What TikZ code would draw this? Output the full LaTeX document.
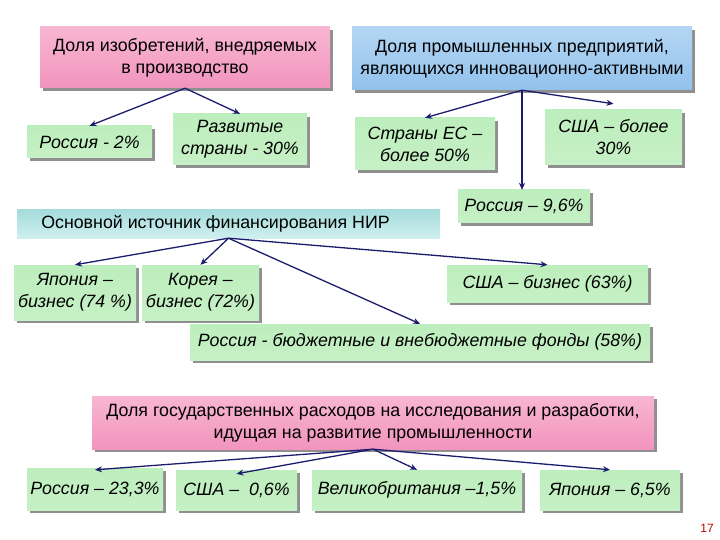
\documentclass[tikz,border=0pt]{standalone}
\usepackage{fontspec}
\setmainfont{Liberation Sans}
\usetikzlibrary{shadows,arrows.meta}
\definecolor{arr}{HTML}{1C1C6E}
\definecolor{gtop}{HTML}{BDEEBD}
\definecolor{gmid}{HTML}{F2FFF2}
\definecolor{gbot}{HTML}{C6F0C6}
\definecolor{ptop}{HTML}{F8B6D2}
\definecolor{pmid}{HTML}{FDEAF3}
\definecolor{pbot}{HTML}{F294BE}
\definecolor{btop}{HTML}{B4D6F4}
\definecolor{bmid}{HTML}{F0F7FF}
\definecolor{bbot}{HTML}{92C2EC}
\definecolor{ttop}{HTML}{A6DCDC}
\definecolor{tbot}{HTML}{CFEFEF}
\tikzset{
  box/.style={rectangle, inner sep=1pt, align=center, font=\fontsize{17.8}{22}\selectfont,
    drop shadow={shadow xshift=3pt, shadow yshift=-3pt, fill=black!55, opacity=0.8}},
  greenbox/.style={box, top color=gtop, middle color=gmid, bottom color=gbot, font=\fontsize{17.8}{22}\selectfont\itshape},
  pinkbox/.style={box, top color=ptop, middle color=pmid, bottom color=pbot},
  bluebox/.style={box, top color=btop, middle color=bmid, bottom color=bbot},
  tealbox/.style={rectangle, inner sep=1pt, align=center, font=\fontsize{17.8}{22}\selectfont, top color=ttop, bottom color=tbot},
  link/.style={draw=arr, line width=1.3pt, -{Stealth[length=7pt,width=6pt]}},
}
\begin{document}
\begin{tikzpicture}[x=1pt,y=-1pt]
\useasboundingbox (0,0) rectangle (720,540);
% top left
\node[pinkbox, minimum width=290pt, minimum height=61pt] (p1) at (185,57.5) {Доля изобретений, внедряемых\\в производство};
\node[greenbox, minimum width=125pt, minimum height=32pt] (r2) at (89.5,142) {Россия - 2\%};
\node[greenbox, minimum width=134pt, minimum height=51pt] (dev) at (240,139.5) {Развитые\\страны - 30\%};
% top right
\node[bluebox, minimum width=340pt, minimum height=63pt] (b1) at (522,58.5) {Доля промышленных предприятий,\\являющихся инновационно-активными};
\node[greenbox, minimum width=140pt, minimum height=52pt] (eu) at (425,144) {Страны ЕС –\\более 50\%};
\node[greenbox, minimum width=137pt, minimum height=55pt] (us30) at (613.5,137.5) {США – более\\30\%};
\node[greenbox, minimum width=132pt, minimum height=33pt] (r96) at (524,206.5) {Россия – 9,6\%};
% middle
\node[tealbox, minimum width=423pt, minimum height=28pt] (t1) at (228.5,224) {Основной источник финансирования НИР\hspace*{26pt}};
\node[greenbox, minimum width=122pt, minimum height=55pt] (jp) at (75,292.5) {Япония –\\бизнес (74 \%)};
\node[greenbox, minimum width=117pt, minimum height=55pt] (kr) at (200.5,292.5) {Корея –\\бизнес (72\%)};
\node[greenbox, minimum width=201pt, minimum height=37pt] (usb) at (547.5,283.5) {США – бизнес (63\%)};
\node[greenbox, minimum width=460pt, minimum height=36pt] (rb) at (420,342) {Россия - бюджетные и внебюджетные фонды (58\%)};
% bottom
\node[pinkbox, minimum width=562pt, minimum height=53pt] (p2) at (373,422.5) {Доля государственных расходов на исследования и разработки,\\идущая на развитие промышленности};
\node[greenbox, minimum width=136pt, minimum height=42pt] (r23) at (95,489) {Россия – 23,3\%};
\node[greenbox, minimum width=121pt, minimum height=40pt] (us06) at (236.5,490) {США –\ \ 0,6\%};
\node[greenbox, minimum width=210pt, minimum height=40pt] (uk) at (417,490) {Великобритания –1,5\%};
\node[greenbox, minimum width=140pt, minimum height=40pt] (jp65) at (610,490) {Япония – 6,5\%};
\node[text=red!75!black, font=\fontsize{12}{14}\selectfont] (pg) at (707,528) {17};
% connectors
\draw[link] (p1.south) -- (r2.north);
\draw[link] (p1.south) -- (dev.north);
\draw[link] (b1.south) -- (eu.north);
\draw[link] (b1.south) -- ([yshift=6pt]us30.north);
\draw[link] (b1.south) -- (b1.south |- r96.north);
\draw[link] (t1.south) -- (jp.north);
\draw[link] (t1.south) -- (kr.north);
\draw[link] (t1.south) -- (usb.north);
\draw[link] (t1.south) -- (rb.north);
\draw[link] (p2.south) -- ([yshift=-2pt]r23.north);
\draw[link] (p2.south) -- ([yshift=-4pt]us06.north);
\draw[link] (p2.south) -- (uk.north);
\draw[link] (p2.south) -- (jp65.north);
\end{tikzpicture}
\end{document}
